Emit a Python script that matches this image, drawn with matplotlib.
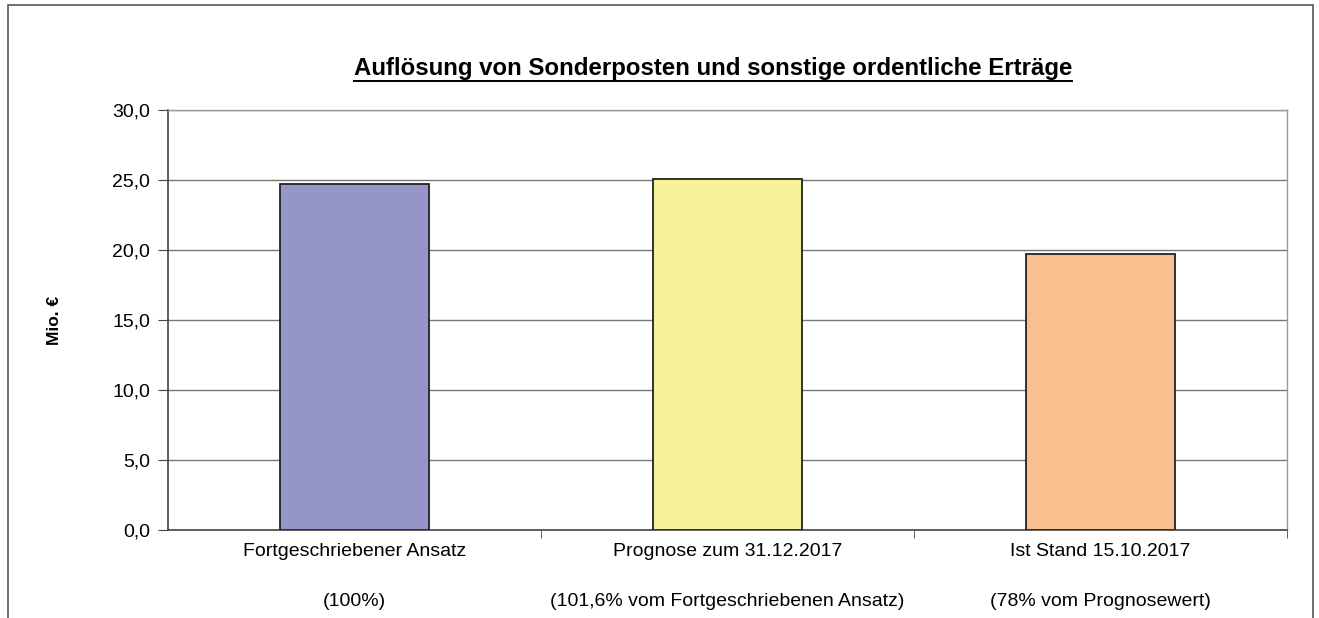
import matplotlib
matplotlib.use("Agg")
import matplotlib.pyplot as plt
from matplotlib.patches import Rectangle

categories = ["Fortgeschriebener Ansatz\n\n(100%)",
              "Prognose zum 31.12.2017\n\n(101,6% vom Fortgeschriebenen Ansatz)",
              "Ist Stand 15.10.2017\n\n(78% vom Prognosewert)"]
values = [24.7, 25.1, 19.7]
colors = ["#9595C8", "#F5F29A", "#F8C08F"]
yticks = [0, 5, 10, 15, 20, 25, 30]
ytick_labels = ["0,0", "5,0", "10,0", "15,0", "20,0", "25,0", "30,0"]

plt.rcParams['font.family'] = ['Liberation Sans', 'DejaVu Sans']

W, H = 1319, 618
fig = plt.figure(figsize=(W/100, H/100), dpi=100)
ax = fig.add_axes([168/W, 1-530/H, (1287-168)/W, (530-110)/H])

x = list(range(len(values)))
ax.bar(x, values, width=0.4, color=colors, edgecolor="#222222", linewidth=1.3, zorder=3)
ax.set_xlim(-0.5, 2.5)
ax.set_ylim(0, 30)
ax.set_yticks(yticks)
ax.set_yticklabels(ytick_labels, fontsize=14)
ax.yaxis.grid(True, color="#777777", linewidth=1.0, zorder=0)
ax.set_xticks(x)
ax.set_xticklabels(categories, fontsize=14, linespacing=1.62)
ax.tick_params(axis='x', length=0, pad=9)
ax.set_xticks([0.5, 1.5, 2.5], minor=True)
ax.tick_params(axis='x', which='minor', length=6, direction='out', color="#444444")
ax.tick_params(axis='y', length=7, direction='out', color="#444444", pad=6)
for s in ['left', 'bottom']:
    ax.spines[s].set_color("#444444")
    ax.spines[s].set_linewidth(1.2)
for s in ['top', 'right']:
    ax.spines[s].set_color("#999999")
    ax.spines[s].set_linewidth(1.0)

ax.set_ylabel("Mio. €", fontsize=12.5, fontweight='bold', labelpad=36)

fig.text(713/W, 1-68/H, "Auflösung von Sonderposten und sonstige ordentliche Erträge",
         ha='center', va='center', fontsize=17.3, fontweight='bold')
# underline
t = fig.texts[-1]
fig.canvas.draw()
bb = t.get_window_extent()
fig.add_artist(plt.Line2D([bb.x0/W, bb.x1/W], [(bb.y0-1)/H, (bb.y0-1)/H],
                          transform=fig.transFigure, color='black', linewidth=1.4))

fig.add_artist(Rectangle((8/W, -0.1), (1313-8)/W, 1.1-4.5/H, transform=fig.transFigure,
                         fill=False, edgecolor="#555555", linewidth=1.2))

fig.savefig("out.png", dpi=100)
